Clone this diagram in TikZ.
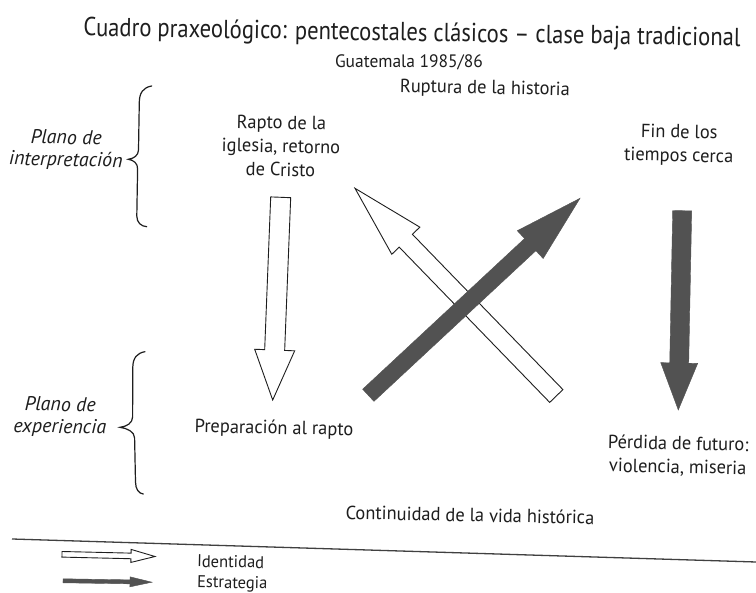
\documentclass[tikz,border=0pt]{standalone}
\usepackage{fontspec}
\setmainfont{PT Sans}
\newfontfamily\titlefont{PT Sans}[FakeStretch=0.87]
\newfontfamily\bodyfont{PT Sans}[FakeStretch=0.97]
\usetikzlibrary{calc}
\definecolor{ink}{HTML}{1E1E1E}
\definecolor{dark}{HTML}{525252}
\newcommand{\blockarrow}[6]{% style, start, end, half shaft, half head, head length
  \coordinate (ba-h) at ($(#3)!#6!(#2)$);
  \path[#1] ($(#2)!#4!90:(#3)$) -- ($(ba-h)!#4!-90:(#2)$) -- ($(ba-h)!#5!-90:(#2)$)
    -- (#3) -- ($(ba-h)!#5!90:(#2)$) -- ($(ba-h)!#4!90:(#2)$) -- ($(#2)!#4!-90:(#3)$) -- cycle;
}
\tikzset{
  lbl/.style={font=\bodyfont\fontsize{19}{23.5}\selectfont, text=ink, align=center, inner sep=0pt, rotate=-1.2},
  plano/.style={font=\itshape\fontsize{20}{22}\selectfont, text=ink, align=center, inner sep=0pt, rotate=-1.2},
  legend/.style={font=\bodyfont\fontsize{17}{19}\selectfont, text=ink, anchor=west, inner sep=0pt, rotate=-1.2},
  idarrow/.style={draw=ink, fill=white, line width=0.9pt, line join=miter},
  starrow/.style={fill=dark, draw=dark, line width=0.4pt, line join=miter},
  brace/.style={draw=ink, line width=1.2pt, line cap=round},
}
\begin{document}
\begin{tikzpicture}[x=1pt,y=-1pt]
\useasboundingbox[fill=white] (0,0) rectangle (756,593);

% titles
\node[font=\titlefont\fontsize{26}{28}\selectfont, text=ink, inner sep=0pt, rotate=-0.9, anchor=base] (title) at (412,41)
  {Cuadro praxeológico: pentecostales clásicos – clase baja tradicional};
\node[font=\bodyfont\fontsize{18}{20}\selectfont, text=ink, inner sep=0pt, anchor=base] (sub) at (409,67.5) {Guatemala 1985/86};

% labels
\node[lbl] (ruptura) at (485,89) {Ruptura de la historia};
\node[lbl] (rapto) at (281,146) {Rapto de la\\iglesia, retorno\\de Cristo};
\node[lbl] (fin) at (679,145) {Fin de los\\tiempos cerca};
\node[lbl] (prep) at (274,429) {Preparación al rapto};
\node[lbl] (perdida) at (678,456) {Pérdida de futuro:\\violencia, miseria};
\node[lbl] (contin) at (470,515) {Continuidad de la vida histórica};

\node[plano] (pinterp) at (66,150) {Plano de\\interpretación};
\node[plano] (pexper) at (60,417) {Plano de\\experiencia};

% braces
\draw[brace] (151.7,86) .. controls (143,87.5) and (139.5,93) .. (139.3,102) -- (138.5,150)
  .. controls (138.3,155.5) and (134,158.5) .. (128.3,159.3)
  .. controls (134,160.2) and (137.7,163.5) .. (137.6,169) -- (136.8,216)
  .. controls (136.8,222.5) and (141,226.3) .. (146.7,226.7);
\draw[brace] (145,351.7) .. controls (137,353) and (133,358) .. (132.8,367) -- (132.6,417)
  .. controls (132.5,423) and (127,426.5) .. (120,427.3)
  .. controls (127,428.3) and (134.5,431.5) .. (134.6,438) -- (135.5,482)
  .. controls (135.6,489) and (138.5,493.5) .. (143.3,494);

% main arrows
\coordinate (a1s) at (280.7,197.3);
\coordinate (a1e) at (272.7,400);
\blockarrow{idarrow}{a1s}{a1e}{10pt}{20pt}{50pt}
\coordinate (a2s) at (556.3,396);
\coordinate (a2e) at (355,188.3);
\blockarrow{idarrow}{a2s}{a2e}{9.2pt}{19.5pt}{73pt}
\coordinate (a3s) at (368.3,395.3);
\coordinate (a3e) at (580,198.3);
\blockarrow{starrow}{a3s}{a3e}{8.3pt}{19pt}{68pt}
\coordinate (a4s) at (682.2,210.7);
\coordinate (a4e) at (678.3,410);
\blockarrow{starrow}{a4s}{a4e}{9.5pt}{18.5pt}{47pt}

% separator line
\coordinate (l1) at (12,539);
\coordinate (l2) at (756,562);
\draw[draw=ink!85, line width=1.3pt] (l1) -- (l2);

% legend
\coordinate (li1) at (62,554.3);
\coordinate (li2) at (155,556.5);
\blockarrow{idarrow}{li1}{li2}{2.8pt}{6.5pt}{24pt}
\coordinate (ls1) at (63,580.8);
\coordinate (ls2) at (152,582.2);
\blockarrow{starrow}{ls1}{ls2}{2pt}{5pt}{22pt}
\node[legend] (lid) at (197,561) {Identidad};
\node[legend] (lst) at (197,583.3) {Estrategia};
\end{tikzpicture}
\end{document}
